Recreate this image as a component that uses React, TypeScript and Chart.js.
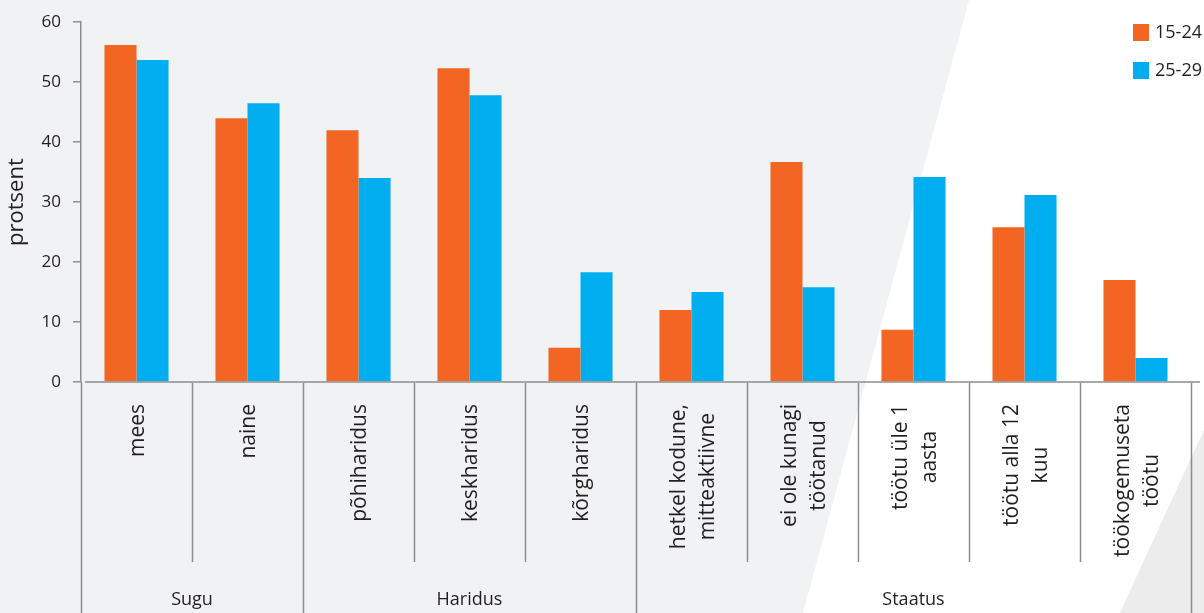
import React, { useEffect, useRef } from "react";
import { Chart, registerables } from "chart.js";

Chart.register(...registerables);

// ---- data ----
const categories: string[][] = [
  ["mees"],
  ["naine"],
  ["põhiharidus"],
  ["keskharidus"],
  ["kõrgharidus"],
  ["hetkel kodune,", "mitteaktiivne"],
  ["ei ole kunagi", "töötanud"],
  ["töötu üle 1", "aasta"],
  ["töötu alla 12", "kuu"],
  ["töökogemuseta", "töötu"],
];
const groupLabels = ["Sugu", "Haridus", "Staatus"];
const groupSizes = [2, 3, 5];
const seriesLabels = ["15-24", "25-29"];
const values1524 = [56.2, 44.0, 42.0, 52.3, 5.7, 12.0, 36.7, 8.7, 25.8, 17.0];
const values2529 = [53.7, 46.5, 34.0, 47.8, 18.3, 15.0, 15.8, 34.2, 31.2, 4.0];
const yMin = 0;
const yMax = 60;
const yStep = 10;
const yTitle = "protsent";

const ORANGE = "#f26522";
const BLUE = "#00aeef";
const TEXT = "#231f20";
const LINE = "#8c8c8c";
const FONT = "'Open Sans', 'Noto Sans', sans-serif";

const decoPlugin = {
  id: "deco",
  beforeDraw(chart: any) {
    const { ctx, width, height } = chart;
    ctx.save();
    ctx.fillStyle = "#f1f2f4";
    ctx.fillRect(0, 0, width, height);
    ctx.fillStyle = "#ffffff";
    ctx.beginPath();
    ctx.moveTo(969, 0);
    ctx.lineTo(width, 0);
    ctx.lineTo(width, 430);
    ctx.lineTo(1120, height);
    ctx.lineTo(803, height);
    ctx.closePath();
    ctx.fill();
    ctx.fillStyle = "#ececec";
    ctx.beginPath();
    ctx.moveTo(width, 430);
    ctx.lineTo(width, height);
    ctx.lineTo(1120, height);
    ctx.closePath();
    ctx.fill();
    ctx.restore();
  },
  afterDraw(chart: any) {
    const { ctx, width, height } = chart;
    const x = chart.scales.x;
    const y = chart.scales.y;
    const area = chart.chartArea;
    const axisY = y.getPixelForValue(0);
    const n = categories.length;
    ctx.save();
    ctx.strokeStyle = LINE;
    ctx.lineWidth = 1.5;
    // x axis line
    ctx.beginPath();
    ctx.moveTo(area.left + 4, axisY);
    ctx.lineTo(width - 4, axisY);
    ctx.stroke();
    // separators
    const groupEnds: number[] = [];
    let acc = 0;
    groupSizes.forEach((s) => {
      acc += s;
      groupEnds.push(acc);
    });
    for (let i = 0; i <= n; i++) {
      const bx = Math.round(x.getPixelForValue(i - 0.5)) + 0.5;
      const full = i === 0 || groupEnds.includes(i);
      ctx.beginPath();
      ctx.moveTo(bx, axisY + (i === 0 ? 0 : 1));
      ctx.lineTo(bx, full ? height : 562);
      ctx.stroke();
    }
    // category labels
    ctx.fillStyle = TEXT;
    ctx.font = `21px ${FONT}`;
    ctx.textAlign = "center";
    ctx.textBaseline = "middle";
    const lineH = 29;
    categories.forEach((lines, i) => {
      const cx = x.getPixelForValue(i);
      const maxW = Math.max(...lines.map((l) => ctx.measureText(l).width));
      const cy = axisY + 22 + maxW / 2;
      lines.forEach((l, j) => {
        const off = (j - (lines.length - 1) / 2) * lineH + 2;
        ctx.save();
        ctx.translate(cx + off, cy);
        ctx.rotate(-Math.PI / 2);
        ctx.fillText(l, 0, 0);
        ctx.restore();
      });
    });
    // group labels
    ctx.font = `18px ${FONT}`;
    let start = 0;
    groupLabels.forEach((g, gi) => {
      const end = start + groupSizes[gi];
      const gx0 = x.getPixelForValue(start - 0.5);
      const gx1 = x.getPixelForValue(end - 0.5);
      ctx.fillText(g, (gx0 + gx1) / 2, 600);
      start = end;
    });
    // legend
    const colors = [ORANGE, BLUE];
    ctx.textAlign = "left";
    ctx.font = `18px ${FONT}`;
    seriesLabels.forEach((s, i) => {
      const ly = 24 + i * 38;
      ctx.fillStyle = colors[i];
      ctx.fillRect(1133, ly, 16, 17);
      ctx.fillStyle = TEXT;
      ctx.fillText(s, 1155, ly + 9);
    });
    ctx.restore();
  },
};

export default function App() {
  const ref = useRef<HTMLCanvasElement | null>(null);
  useEffect(() => {
    if (!ref.current) return;
    const chart = new Chart(ref.current, {
      type: "bar",
      data: {
        labels: categories.map((c) => c.join(" ")),
        datasets: [
          {
            label: seriesLabels[0],
            data: values1524,
            backgroundColor: ORANGE,
            borderWidth: 0,
            categoryPercentage: 0.577,
            barPercentage: 1,
          },
          {
            label: seriesLabels[1],
            data: values2529,
            backgroundColor: BLUE,
            borderWidth: 0,
            categoryPercentage: 0.577,
            barPercentage: 1,
          },
        ],
      },
      options: {
        responsive: false,
        animation: false,
        devicePixelRatio: 1,
        layout: { padding: { top: 22, bottom: 231, left: 0, right: 13 } },
        plugins: {
          legend: { display: false },
          tooltip: { enabled: false },
        },
        scales: {
          x: {
            display: false,
            offset: true,
          },
          y: {
            min: yMin,
            max: yMax,
            afterFit: (scale: any) => {
              scale.width = 81;
            },
            ticks: {
              stepSize: yStep,
              color: TEXT,
              font: { family: FONT, size: 17 },
              padding: 12,
            },
            grid: {
              display: true,
              drawOnChartArea: false,
              drawTicks: true,
              tickLength: 8,
              color: LINE,
              lineWidth: 1.5,
            },
            border: { display: true, color: LINE, width: 1.5 },
            title: {
              display: true,
              text: yTitle,
              color: TEXT,
              font: { family: FONT, size: 22 },
              padding: { top: 4, bottom: 0 },
            },
          },
        },
      },
      plugins: [decoPlugin],
    });
    return () => chart.destroy();
  }, []);
  return (
    <div style={{ position: "fixed", left: 0, top: 0, width: 1204, height: 613 }}>
      <canvas ref={ref} width={1204} height={613} style={{ display: "block" }} />
    </div>
  );
}
